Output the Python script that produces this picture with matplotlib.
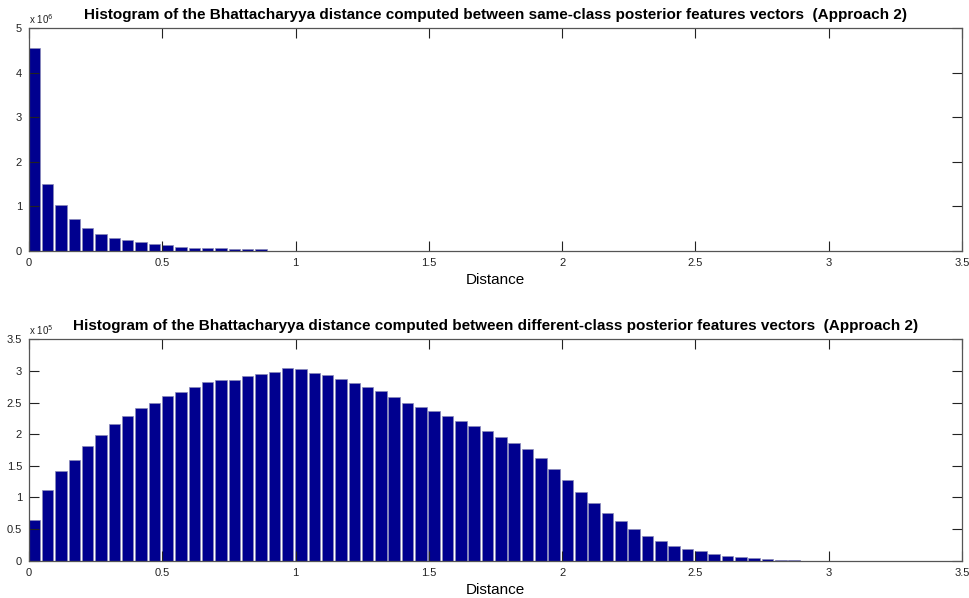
import matplotlib
matplotlib.use("Agg")
import matplotlib.pyplot as plt
import numpy as np

plt.rcParams['font.family'] = ['Liberation Sans', 'DejaVu Sans']

# bin centres (distance) and counts
bin_width = 0.05
first_centre = 0.02

# same-class counts, in units of 1e6
same_counts = [4.554, 1.498, 1.026, 0.704, 0.502, 0.367, 0.296, 0.240, 0.199,
               0.146, 0.120, 0.082, 0.067, 0.052, 0.050, 0.037, 0.036, 0.030]

# different-class counts, in units of 1e5
diff_counts = [0.637, 1.116, 1.421, 1.584, 1.821, 1.989, 2.168, 2.295, 2.421,
               2.500, 2.605, 2.668, 2.745, 2.826, 2.863, 2.853, 2.921, 2.947,
               2.989, 3.053, 3.026, 2.974, 2.937, 2.868, 2.816, 2.747, 2.684,
               2.589, 2.500, 2.432, 2.363, 2.284, 2.216, 2.137, 2.047, 1.953,
               1.856, 1.758, 1.621, 1.447, 1.274, 1.089, 0.916, 0.758, 0.626,
               0.495, 0.384, 0.307, 0.240, 0.184, 0.147, 0.105, 0.079, 0.053,
               0.042, 0.026, 0.016, 0.010]

titles = ["Histogram of the Bhattacharyya distance computed between same-class posterior features vectors  (Approach 2)",
          "Histogram of the Bhattacharyya distance computed between different-class posterior features vectors  (Approach 2)"]
x_ticks = [0, 0.5, 1, 1.5, 2, 2.5, 3, 3.5]
x_ticklabels = ["0", "0.5", "1", "1.5", "2", "2.5", "3", "3.5"]
top_yticks = [0, 1, 2, 3, 4, 5]
bottom_yticks = [0, 0.5, 1, 1.5, 2, 2.5, 3, 3.5]
bottom_yticklabels = ["0", "0.5", "1", "1.5", "2", "2.5", "3", "3.5"]

bar_color = '#00008f'


def draw_hist(ax, counts, yticks, yticklabels, ymax, title, exponent):
    centres = first_centre + bin_width * np.arange(len(counts))
    ax.bar(centres, counts, width=bin_width * 0.86, color=bar_color,
           edgecolor='#8a8ab8', linewidth=0.5)
    ax.set_xlim(0, 3.5)
    ax.set_ylim(0, ymax)
    ax.set_xticks(x_ticks)
    ax.set_xticklabels(x_ticklabels)
    ax.set_yticks(yticks)
    ax.set_yticklabels(yticklabels)
    ax.tick_params(direction='in', top=True, right=True, length=7, width=0.8,
                   labelsize=8, colors='#222222', pad=5)
    for s in ax.spines.values():
        s.set_color('#555555')
        s.set_linewidth(0.9)
    ax.set_title(title, fontsize=11, fontweight='bold', pad=7)
    ax.set_xlabel("Distance", fontsize=11, labelpad=4)
    ax.text(0.0, 1.012, r'x 10$^{%d}$' % exponent, transform=ax.transAxes,
            fontsize=7, ha='left', va='bottom', color='#222222')


fig = plt.figure(figsize=(9.7, 5.98), dpi=100)
ax1 = fig.add_axes([0.0299, 0.5808, 0.9619, 0.3719])
ax2 = fig.add_axes([0.0299, 0.0624, 0.9619, 0.3702])

draw_hist(ax1, same_counts, top_yticks, [str(t) for t in top_yticks], 5,
          titles[0], 6)
draw_hist(ax2, diff_counts, bottom_yticks, bottom_yticklabels, 3.5,
          titles[1], 5)

fig.savefig("out.png", dpi=100)
